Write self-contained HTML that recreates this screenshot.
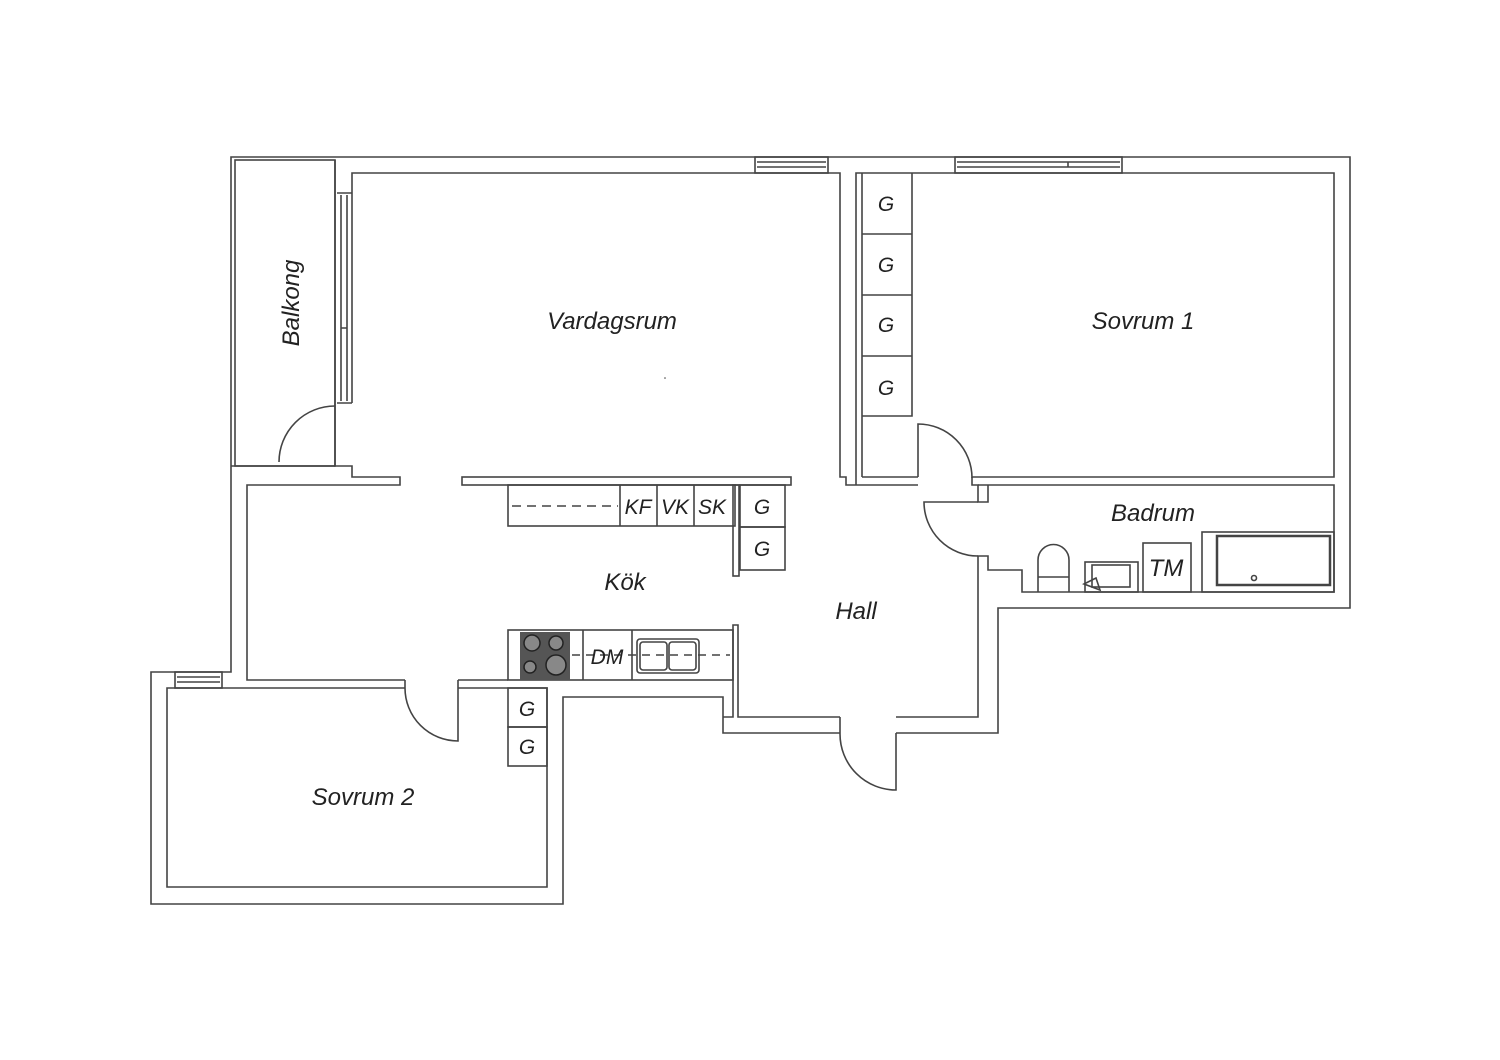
<!DOCTYPE html>
<html><head><meta charset="utf-8"><style>
html,body{margin:0;padding:0;background:#fff;}
svg{display:block}
text{font-family:"Liberation Sans",sans-serif;font-style:italic;fill:#222;}
</style></head><body>
<svg width="1500" height="1060" viewBox="0 0 1500 1060" xmlns="http://www.w3.org/2000/svg">
<g fill="none" stroke="#444" stroke-width="1.6">
<!-- outer -->
<path d="M896,733 H998 V608 H1350 V157 H231 V672 H151 V904 H563 V697 H723 V733 H840"/>
<!-- balkong -->
<rect x="235" y="160" width="100" height="306"/>
<path d="M231,466 H335"/>
<!-- vardagsrum -->
<path d="M335,160 V466 H352 V477 H400 V485 H247 V680 H405"/>
<path d="M352,403 V173 H840 V477 H846 V485 H918"/>
<path d="M337,193 H352 M337,403 H352 M341,195 V401 M347,195 V401 M341,328 H347"/>
<rect x="462" y="477" width="329" height="8"/>
<!-- wall between -->
<path d="M856,477 V173 H1334 V477 H972"/>
<path d="M862,477 H918"/>
<path d="M856,477 V485"/>
<!-- windows top -->
<rect x="755" y="157" width="73" height="16"/><path d="M757,162 H826 M757,167 H826"/>
<rect x="955" y="157" width="167" height="16"/><path d="M957,162 H1120 M957,167 H1120 M1068,162 V167"/>
<!-- wardrobes -->
<path d="M862,173 V477 M912,173 V416 H862 M862,234 H912 M862,295 H912 M862,356 H912"/>
<!-- badrum -->
<path d="M978,485 H1334 V592 H1022 V570 H988 V556 H978 V717 H896"/>
<path d="M840,717 H738 V625 H733 V717 H723"/>
<path d="M972,477 V485 H978 V502 H988 V485"/>
<!-- sovrum2 -->
<path d="M405,688 H167 V887 H547 V688 H458"/>
<path d="M458,680 H508 M458,680 V688"/>
<path d="M405,680 V688"/>
<rect x="175" y="672" width="47" height="16"/><path d="M177,677 H220 M177,682 H220"/>
<!-- doors -->
<path d="M279,462 A56,56 0 0 1 335,406"/>
<path d="M918,477 V424 A54,54 0 0 1 972,478"/>
<path d="M978,502 H924 A54,54 0 0 0 978,556"/>
<path d="M896,733 V790 A56,56 0 0 1 840,734 V717"/>
<path d="M458,688 V741 A53,53 0 0 1 405,688"/>
<!-- kitchen upper -->
<rect x="508" y="485" width="227" height="41"/>
<path d="M620,485 V526 M657,485 V526 M694,485 V526"/>
<path d="M512,506 H618" stroke-dasharray="9,6"/>
<rect x="733" y="485" width="6" height="91"/>
<rect x="740" y="485" width="45" height="42"/><rect x="740" y="527" width="45" height="43"/>
<!-- kitchen lower -->
<rect x="508" y="630" width="225" height="50"/>
<path d="M583,630 V680 M632,630 V680"/>
<path d="M572,655 H730" stroke-dasharray="8,6"/>
<rect x="637" y="639" width="62" height="34" rx="3"/>
<rect x="640" y="642" width="27" height="28" rx="3"/><rect x="669" y="642" width="27" height="28" rx="3"/>
<rect x="508" y="688" width="39" height="39"/><rect x="508" y="727" width="39" height="39"/>
<!-- bathroom fixtures -->
<path d="M1038,592 V560 A15,15 0 0 1 1069,560 V592 M1038,577 H1069"/>
<rect x="1085" y="562" width="53" height="30"/><rect x="1092" y="565" width="38" height="22"/>
<path d="M1084,584 L1096,578 L1100,590 Z"/>
<rect x="1143" y="543" width="48" height="49"/>
<rect x="1202" y="532" width="132" height="60"/>
<rect x="1217" y="536" width="113" height="49" stroke-width="2.5"/>
<circle cx="1254" cy="578" r="2.5"/>
</g>
<rect x="520" y="632" width="50" height="48" fill="#555"/>
<g fill="#888" stroke="#222" stroke-width="1.5">
<circle cx="532" cy="643" r="8"/><circle cx="556" cy="643" r="7"/>
<circle cx="530" cy="667" r="6"/><circle cx="556" cy="665" r="10"/>
</g>
<circle cx="665" cy="378" r="0.8" fill="#444"/>
<g font-size="24">
<text x="612" y="329" text-anchor="middle">Vardagsrum</text>
<text x="1143" y="329" text-anchor="middle">Sovrum 1</text>
<text x="625" y="590" text-anchor="middle">Kök</text>
<text x="856" y="619" text-anchor="middle">Hall</text>
<text x="1153" y="521" text-anchor="middle">Badrum</text>
<text x="363" y="805" text-anchor="middle">Sovrum 2</text>
<text transform="translate(299,303) rotate(-90)" text-anchor="middle">Balkong</text>
<text x="1166" y="576" text-anchor="middle">TM</text>
</g>
<g font-size="21">
<text x="638" y="514" text-anchor="middle">KF</text>
<text x="675" y="514" text-anchor="middle">VK</text>
<text x="712" y="514" text-anchor="middle">SK</text>
<text x="762" y="514" text-anchor="middle">G</text>
<text x="762" y="556" text-anchor="middle">G</text>
<text x="607" y="664" text-anchor="middle">DM</text>
<text x="527" y="716" text-anchor="middle">G</text>
<text x="527" y="754" text-anchor="middle">G</text>
<text x="886" y="211" text-anchor="middle">G</text>
<text x="886" y="272" text-anchor="middle">G</text>
<text x="886" y="332" text-anchor="middle">G</text>
<text x="886" y="395" text-anchor="middle">G</text>
</g>
</svg>
</body></html>
